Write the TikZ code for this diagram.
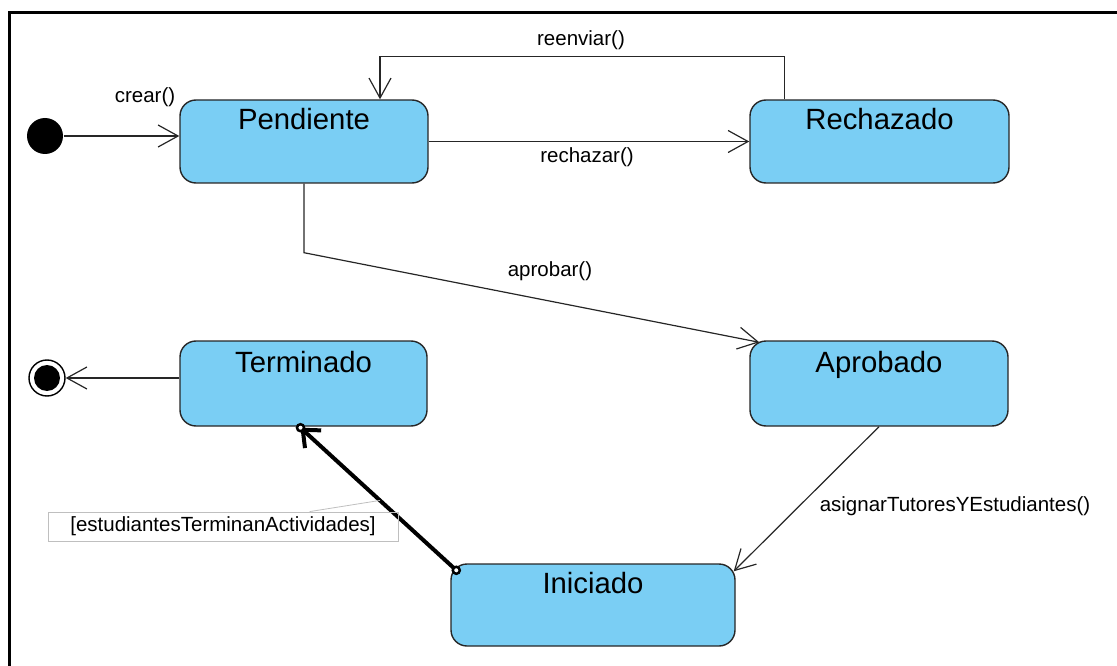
\documentclass[tikz,border=0pt]{standalone}
\usepackage{fontspec}
\setmainfont{Liberation Sans}
\usepackage{tikz}
\usetikzlibrary{arrows.meta}
\usetikzlibrary{calc}
\definecolor{statefill}{RGB}{122,206,244}

\begin{document}
\begin{tikzpicture}[x=1pt,y=-1pt,>={Straight Barb[length=20pt,width=22pt]},line width=1.2pt]
		\tikzstyle{state}=[rectangle,draw=black!85,fill=statefill,rounded corners=16pt,line width=1.4pt,
			inner sep=0pt,font=\fontsize{29.3}{34}\selectfont,text height=21pt,text depth=44pt,minimum height=83pt];
		\tikzstyle{msg}=[font=\fontsize{20.5}{24}\selectfont,inner sep=0pt];
		\tikzstyle{trans}=[->,draw=black!85];
		\tikzstyle{guard}=[line width=4pt,-{Straight Barb[length=14pt,width=24pt]}];
		\tikzstyle{guarddot}=[line width=2.5pt,fill=white];
		\useasboundingbox(0,0)rectangle(1117,666);
		\draw[line width=3pt](9,666)--(9,13)--(1117,13);

		% estados
		\node[state,minimum width=248pt](pend) at (304,141.5){Pendiente};
		\node[state,minimum width=259pt](rech) at (879.5,141.5){Rechazado};
		\node[state,minimum width=247pt,minimum height=85pt](term) at (303.5,383.5){Terminado};
		\node[state,minimum width=258pt,minimum height=85pt](apro) at (879,383.5){Aprobado};
		\node[state,minimum width=284pt,minimum height=82pt](inic) at (593,605){Iniciado};

		% inicio y fin
		\node[circle,fill=black,minimum size=36pt,inner sep=0pt](ini) at (45,136){};
		\node[circle,draw=black,line width=1.4pt,minimum size=36pt,inner sep=0pt](fin) at (47,378){};
		\fill(fin) circle (13pt);

		% transiciones
		\draw[trans](ini)--(pend.west|-ini);
		\node[msg](crear) at (145,97){crear()};
		\draw[trans](pend.east)--(rech.west);
		\node[msg](rechazar) at (587,157){rechazar()};
		\draw[trans]($(rech.north west)+(35,0)$)--++(0,-43)-|($(pend.north)+(76,0)$);
		\node[msg](reenviar) at (581,40){reenviar()};
		\draw[trans](pend.south)--++(0,69)--($(apro.north west)+(10,2)$);
		\node[msg](aprobar) at (550,271){aprobar()};
		\draw[trans](apro.south)--($(inic.north east)+(-2,8)$);
		\node[msg](asignar) at (955,506){asignarTutoresYEstudiantes()};
		\draw[trans](term.west|-fin)--(fin);

		% guarda
		\coordinate(gs) at ($(inic.north west)+(6,7)$);
		\coordinate(ge) at ($(term.south)+(-3,1)$);
		\draw[guard](gs)--(ge);
		\draw[guarddot](gs) circle (3.5pt) (ge) circle (3.5pt);
		\node[msg,draw=black!25,line width=0.8pt,minimum width=350pt,minimum height=29pt](grd) at (223,526.5){[estudiantesTerminanActividades]};
		\draw[black!25,line width=0.8pt]($(grd.north west)+(262,0)$)--($(gs)!0.49!(ge)$);
	\end{tikzpicture}
\end{document}
